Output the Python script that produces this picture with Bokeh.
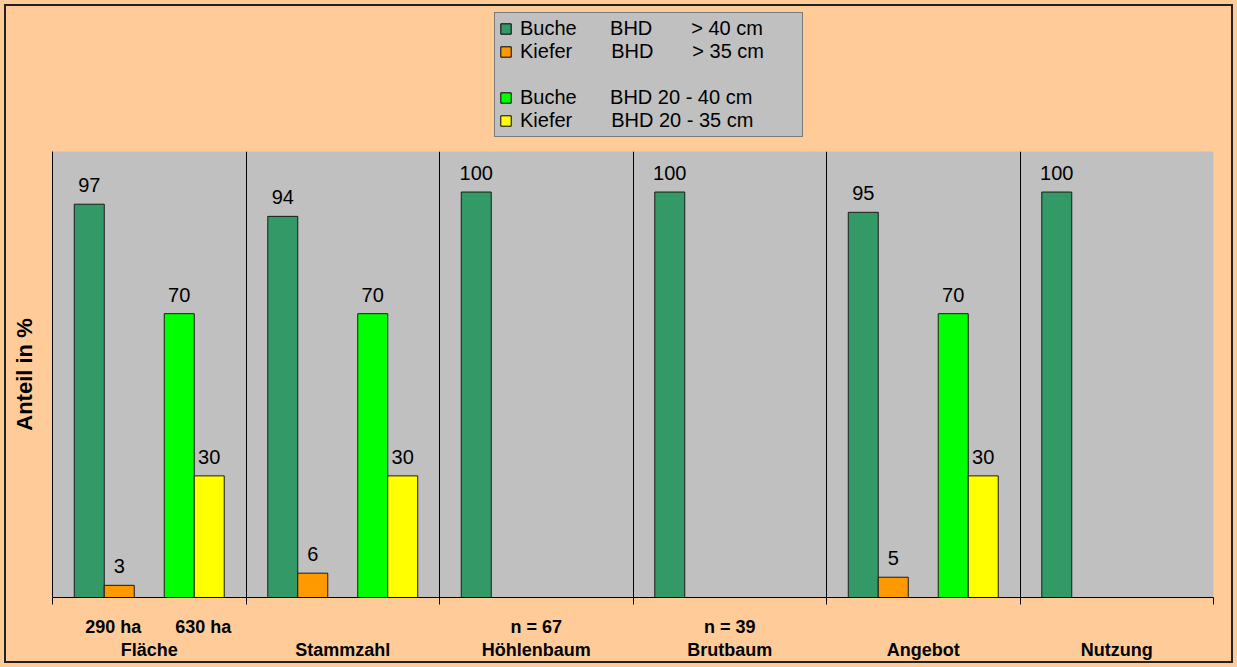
from bokeh.plotting import figure
from bokeh.layouts import column
from bokeh.models import (Range1d, FixedTicker, LinearAxis, Legend, LegendItem,
                          ColumnDataSource)
from bokeh.embed import file_html
from bokeh.resources import INLINE
from bokeh.core.properties import value

# ---------------- data ----------------
categories = ["Fläche", "Stammzahl", "Höhlenbaum", "Brutbaum", "Angebot", "Nutzung"]
buche_gt40 = [97, 94, 100, 100, 95, 100]
kiefer_gt35 = [3, 6, None, None, 5, None]
buche_20_40 = [70, 70, None, None, 70, None]
kiefer_20_35 = [30, 30, None, None, 30, None]

sub_labels = ["290 ha", "630 ha", "n = 67", "n = 39"]
sub_label_cat = [0, 0, 2, 3]
sub_label_side = ["left", "right", "center", "center"]

NB = "\u00a0"
legend_labels = [
    "Buche" + NB * 6 + "BHD" + NB * 7 + "> 40 cm",
    "Kiefer" + NB * 7 + "BHD" + NB * 7 + "> 35 cm",
    "Buche" + NB * 6 + "BHD 20 - 40 cm",
    "Kiefer" + NB * 7 + "BHD 20 - 35 cm" + NB * 8,
]
colors = ["#339966", "#FF9900", "#00FF00", "#FFFF00"]

# ---------------- layout constants ----------------
SLOT = 0.155
slot_pos = [-2, -1, 1, 2]
side_off = {"left": -1.2 * SLOT, "right": 1.8 * SLOT, "center": 0.0}
FONT = "Liberation Sans"
PEACH = "#FFCC99"
GRAY = "#C0C0C0"
W = 1237
TOP_H = 151
MAIN_H = 516

# ---------------- legend strip (top) ----------------
top = figure(width=W, height=TOP_H, output_backend="svg", toolbar_location=None,
             x_range=Range1d(0, 1), y_range=Range1d(0, 1),
             x_axis_location=None, y_axis_location=None,
             min_border_left=0, min_border_right=0, min_border_top=0,
             min_border_bottom=0)
top.background_fill_color = None
top.border_fill_color = None
top.outline_line_color = None
top.xgrid.visible = False
top.ygrid.visible = False

items = []
for k, col in enumerate(colors):
    r = top.vbar(x=[0.5], top=[-5], bottom=[-6], width=0.1, fill_color=col,
                 line_color="#000000", line_width=1)
    items.append(LegendItem(label=legend_labels[k], renderers=[r]))
blank = top.vbar(x=[0.5], top=[-5], bottom=[-6], width=0.1, fill_alpha=0,
                 line_alpha=0)
items.insert(2, LegendItem(label=NB, renderers=[blank]))

legend = Legend(items=items, location=(442, 14), orientation="vertical",
                background_fill_color=GRAY, background_fill_alpha=1,
                border_line_color="#333333", border_line_width=1,
                label_text_font=FONT, label_text_font_size="20px",
                label_text_color="#000000", glyph_width=13, glyph_height=13,
                label_standoff=8, padding=4, spacing=0, label_height=21,
                margin=0)
top.add_layout(legend, "center")

# ---------------- main chart ----------------
p = figure(width=W, height=MAIN_H, output_backend="svg", toolbar_location=None,
           x_range=Range1d(0, len(categories)), y_range=Range1d(0, 110),
           min_border_left=52, min_border_right=24, min_border_top=0,
           min_border_bottom=70)
p.background_fill_color = GRAY
p.border_fill_color = None
p.outline_line_color = None

all_series = [buche_gt40, kiefer_gt35, buche_20_40, kiefer_20_35]
for k, (vals, col, sp) in enumerate(zip(all_series, colors, slot_pos)):
    xs, ys = [], []
    for c, v in enumerate(vals):
        if v is not None:
            xs.append(c + 0.5 + sp * SLOT)
            ys.append(v)
    src = ColumnDataSource(dict(x=xs, top=ys, lab=[str(v) for v in ys]))
    p.vbar(x="x", top="top", width=SLOT, bottom=0, source=src,
           fill_color=col, line_color="#1a1a1a", line_width=1)
    p.text(x="x", y="top", text="lab", source=src, text_align="center",
           text_baseline="alphabetic", y_offset=-19, text_font=value(FONT),
           text_font_size="20px", text_color="#000000")

# grid: separators between categories
p.ygrid.visible = False
p.xgrid.ticker = FixedTicker(ticks=list(range(1, len(categories))))
p.xgrid.grid_line_color = "#000000"
p.xgrid.grid_line_width = 1

# y axis: line + label only
yax = p.yaxis[0]
yax.ticker = FixedTicker(ticks=[])
yax.major_tick_out = 0
yax.major_tick_in = 0
yax.minor_tick_out = 0
yax.minor_tick_in = 0
yax.axis_line_color = "#000000"
yax.axis_label = "Anteil in %"
yax.axis_label_text_font = FONT
yax.axis_label_text_font_style = "bold"
yax.axis_label_text_font_size = "22px"
yax.axis_label_text_color = "#000000"
yax.axis_label_standoff = 16

# x axis: baseline with boundary ticks
xax = p.xaxis[0]
xax.ticker = FixedTicker(ticks=list(range(0, len(categories) + 1)))
xax.major_tick_out = 7
xax.major_tick_in = 0
xax.minor_tick_out = 0
xax.minor_tick_in = 0
xax.major_label_text_alpha = 0
xax.major_label_text_font_size = "1px"
xax.major_label_standoff = 0
xax.axis_line_color = "#000000"
xax.major_tick_line_color = "#000000"

# sub labels axis
sub_pos = [c + 0.5 + side_off[s] for c, s in zip(sub_label_cat, sub_label_side)]
ax2 = LinearAxis(ticker=FixedTicker(ticks=sub_pos),
                 major_label_overrides={x: t for x, t in zip(sub_pos, sub_labels)})
# category labels axis
cat_pos = [c + 0.5 for c in range(len(categories))]
ax3 = LinearAxis(ticker=FixedTicker(ticks=cat_pos),
                 major_label_overrides={x: t for x, t in zip(cat_pos, categories)})
for ax, so in ((ax2, 12), (ax3, 0)):
    ax.axis_line_color = None
    ax.major_tick_line_color = None
    ax.minor_tick_line_color = None
    ax.major_tick_out = 0
    ax.major_tick_in = 0
    ax.minor_tick_out = 0
    ax.minor_tick_in = 0
    ax.major_label_standoff = so
    ax.major_label_text_font = FONT
    ax.major_label_text_font_style = "bold"
    ax.major_label_text_font_size = "18px"
    ax.major_label_text_color = "#000000"
    p.add_layout(ax, "below")

layout = column(top, p, spacing=0)
layout.styles = {"background-color": PEACH, "outline": "2px solid #222222",
                 "outline-offset": "-6px"}

open("out.html", "w").write(file_html(layout, INLINE))
